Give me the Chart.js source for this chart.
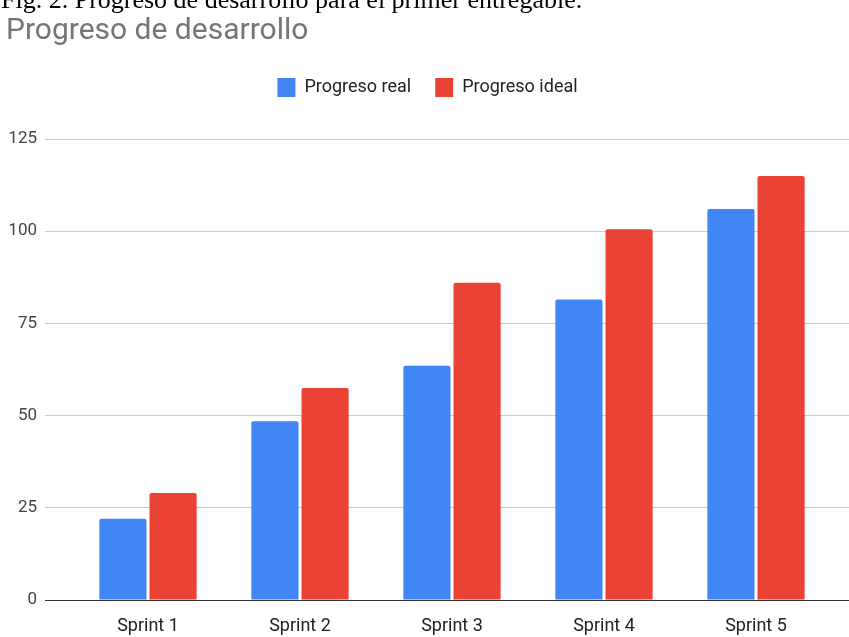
<!DOCTYPE html>
<html lang="es">
<head>
  <meta charset="UTF-8" />
  <title>Progreso de desarrollo</title>
  <script src="https://cdn.jsdelivr.net/npm/chart.js"></script>
  <style>
    body {
      margin: 0;
      background: #fff;
      overflow: hidden;
    }
    #caption {
      position: absolute;
      top: -13px;
      left: 1px;
      font-family: "Liberation Serif", serif;
      font-size: 26px;
      line-height: 26px;
      color: #000;
      white-space: nowrap;
      z-index: 2;
    }
    #chart {
      position: absolute;
      top: 0;
      left: 0;
    }
  </style>
</head>
<body>
  <div id="caption">Fig. 2. Progreso de desarrollo para el primer entregable.</div>
  <canvas id="chart" width="849" height="637"></canvas>

  <script>
    const sprints = ['Sprint 1', 'Sprint 2', 'Sprint 3', 'Sprint 4', 'Sprint 5'];
    const progresoReal = [22, 48.5, 63.5, 81.5, 106];
    const progresoIdeal = [29, 57.5, 86, 100.5, 115];
    const yTicks = [0, 25, 50, 75, 100, 125];

    const gridColor = (c) => (c.tick && c.tick.value === 0 ? '#333333' : '#cccccc');

    // more room between the legend and the plot
    const legendGap = {
      id: 'legendGap',
      beforeInit(chart) {
        const fit = chart.legend.fit;
        chart.legend.fit = function () {
          fit.bind(chart.legend)();
          this.height += 32;
        };
      }
    };

    const ctx = document.getElementById('chart').getContext('2d');

    new Chart(ctx, {
      type: 'bar',
      data: {
        labels: sprints,
        datasets: [
          {
            label: 'Progreso real',
            data: progresoReal,
            backgroundColor: '#4285f4',
            borderRadius: 2,
            borderSkipped: 'bottom'
          },
          {
            label: 'Progreso ideal',
            data: progresoIdeal,
            backgroundColor: '#ea4335',
            borderRadius: 2,
            borderSkipped: 'bottom'
          }
        ]
      },
      options: {
        responsive: false,
        animation: false,
        layout: { padding: { left: 6, right: 0, top: 0, bottom: 0 } },
        datasets: {
          bar: { categoryPercentage: 0.66, barPercentage: 0.94 }
        },
        plugins: {
          title: {
            display: true,
            text: 'Progreso de desarrollo',
            align: 'start',
            color: '#757575',
            font: { family: 'Roboto', size: 30, weight: 'normal' },
            padding: { top: 13, bottom: 5 }
          },
          legend: {
            position: 'top',
            align: 'center',
            labels: {
              boxWidth: 18,
              boxHeight: 19,
              padding: 24,
              color: '#222222',
              font: { family: 'Roboto', size: 18 }
            }
          },
          tooltip: { enabled: false }
        },
        scales: {
          x: {
            grid: { display: false },
            border: { display: false },
            ticks: {
              color: '#222222',
              padding: 8,
              font: { family: 'Roboto', size: 18 }
            },
            afterFit(scale) { scale.height = 37; }
          },
          y: {
            min: 0,
            max: 125,
            afterBuildTicks(scale) { scale.ticks = yTicks.map(v => ({ value: v })); },
            grid: {
              color: gridColor,
              tickColor: gridColor,
              tickLength: 27,
              lineWidth: 1
            },
            border: { display: false },
            ticks: {
              color: '#444444',
              padding: 8,
              font: { family: 'Roboto', size: 17 }
            },
            afterFit(scale) { scale.width = 66; }
          },
          yRight: {
            position: 'right',
            min: 0,
            max: 125,
            afterBuildTicks(scale) { scale.ticks = yTicks.map(v => ({ value: v })); },
            grid: {
              drawOnChartArea: false,
              color: gridColor,
              tickColor: gridColor,
              tickLength: 17
            },
            border: { display: false },
            ticks: { display: false },
            afterFit(scale) { scale.width = 17; }
          }
        }
      },
      plugins: [legendGap]
    });
  </script>
</body>
</html>
